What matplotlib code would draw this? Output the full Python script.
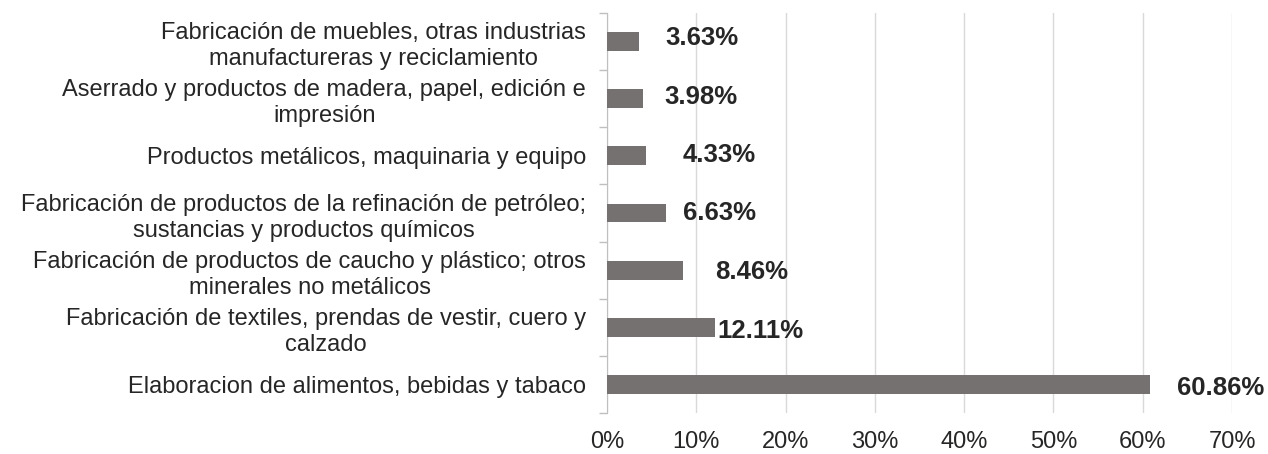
import matplotlib.pyplot as plt

plt.rcParams['font.family'] = ['Liberation Sans', 'DejaVu Sans']

categories = [
    'Elaboracion de alimentos, bebidas y tabaco',
    'Fabricación de textiles, prendas de vestir, cuero y\ncalzado',
    'Fabricación de productos de caucho y plástico; otros\nminerales no metálicos',
    'Fabricación de productos de la refinación de petróleo;\nsustancias y productos químicos',
    'Productos metálicos, maquinaria y equipo',
    'Aserrado y productos de madera, papel, edición e\nimpresión',
    'Fabricación de muebles, otras industrias\nmanufactureras y reciclamiento',
]
values = [60.86, 12.11, 8.46, 6.63, 4.33, 3.98, 3.63]
labels = ['60.86%', '12.11%', '8.46%', '6.63%', '4.33%', '3.98%', '3.63%']

# label placement tweaks (x offset in %, y offset in bar units)
lab_dx = [3.0, 0.3, 3.7, 1.9, 4.1, 2.5, 2.9]
lab_dy = [-0.07, -0.07, -0.03, 0.0, 0.02, 0.03, 0.06]

fig = plt.figure(figsize=(12.68, 4.54), dpi=100)
ax = fig.add_axes([607 / 1268, 41 / 454, 625 / 1268, 400 / 454])

y = range(len(categories))
ax.barh(y, values, height=0.33, color='#767171', zorder=3)
for i, v in enumerate(values):
    ax.text(v + lab_dx[i], i + lab_dy[i], labels[i], ha='left', va='center',
            fontsize=18.5, fontweight='bold', color='#262626', zorder=4)

ax.set_xlim(0, 70)
ax.set_ylim(-0.5, len(categories) - 0.5)
ax.set_xticks(range(0, 71, 10))
ax.set_xticklabels([f'{t}%' for t in range(0, 71, 10)])
ax.set_yticks(list(y))
ax.set_yticklabels(categories, multialignment='center', linespacing=1.25)
ax.set_yticks([i - 0.5 for i in range(len(categories) + 1)], minor=True)
ax.tick_params(axis='y', which='major', length=0, pad=15, labelsize=17, labelcolor='#262626')
ax.tick_params(axis='y', which='minor', length=6, color='#bfbfbf', width=1)
ax.tick_params(axis='x', length=0, pad=13, labelsize=17, labelcolor='#262626')
ax.grid(axis='x', color='#d9d9d9', linewidth=1, zorder=0)
for s in ['top', 'right', 'bottom']:
    ax.spines[s].set_visible(False)
ax.spines['left'].set_color('#bfbfbf')

fig.savefig('out.png', dpi=100)
